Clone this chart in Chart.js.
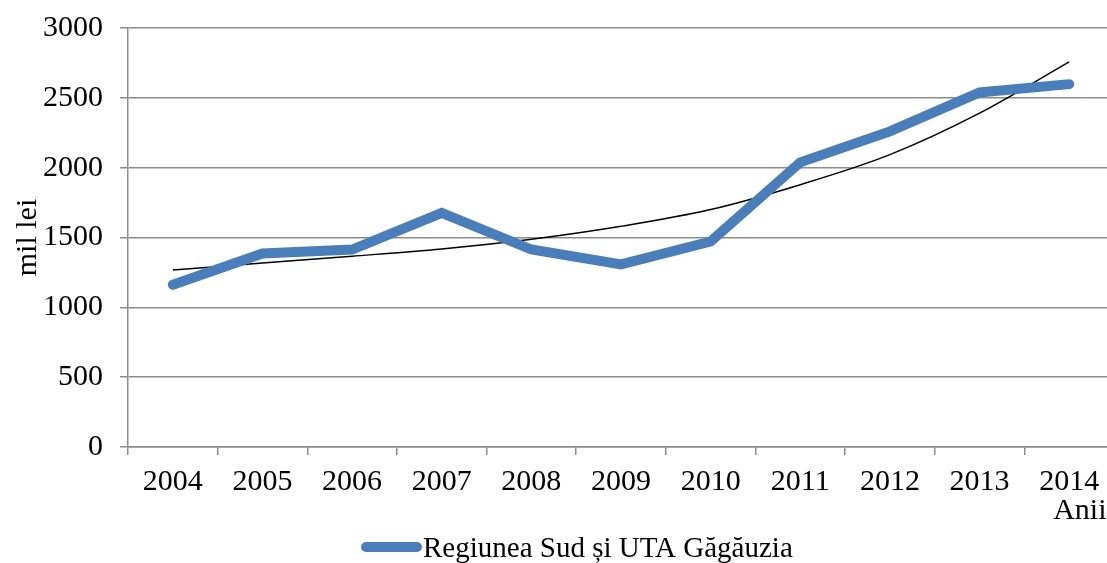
<!DOCTYPE html>
<html>
<head>
<meta charset="utf-8">
<script src="https://cdn.jsdelivr.net/npm/chart.js@4/dist/chart.umd.min.js"></script>
<style>
    html, body { margin: 0; padding: 0; background: #fff; overflow: hidden; }
    #wrap { width: 1114px; height: 563px; }
</style>
</head>
<body>
<div id="wrap"><canvas id="grafic"></canvas></div>
<script>
// Date: Regiunea Sud si UTA Gagauzia (mil lei)
const anii = ['2004', '2005', '2006', '2007', '2008', '2009', '2010', '2011', '2012', '2013', '2014'];
const valoriRegiune = [1162, 1386, 1414, 1676, 1414, 1307, 1471, 2038, 2260, 2538, 2598];
// linia de tendinta
const valoriTendinta = [1267, 1318, 1366, 1418, 1487, 1580, 1700, 1878, 2093, 2390, 2757];
const eticheteY = [0, 500, 1000, 1500, 2000, 2500, 3000];

const familie = '"Liberation Serif", "Times New Roman", serif';
const fontSerif = { family: familie, size: 30, lineHeight: 1.2 };
const gri = '#8c8c8c';
const albastru = '#4a7ebb';

Chart.defaults.font.family = familie;
Chart.defaults.color = '#000';

// legenda desenata manual (linie groasa + text), ca in original
const legendaPlugin = {
    id: 'legendaJos',
    afterDraw(chart) {
        const ctx = chart.ctx;
        const ds = chart.data.datasets[0];
        ctx.save();
        ctx.strokeStyle = ds.borderColor;
        ctx.lineWidth = 10;
        ctx.lineCap = 'round';
        ctx.beginPath();
        ctx.moveTo(366, 547);
        ctx.lineTo(417, 547);
        ctx.stroke();
        ctx.fillStyle = '#000';
        ctx.font = '29px ' + familie;
        ctx.textBaseline = 'alphabetic';
        ctx.textAlign = 'left';
        ctx.fillText(ds.label, 423, 557);
        ctx.restore();
    }
};

new Chart(document.getElementById('grafic'), {
    type: 'line',
    data: {
        labels: anii,
        datasets: [{
            label: 'Regiunea Sud și UTA Găgăuzia',
            data: valoriRegiune,
            borderColor: albastru,
            backgroundColor: albastru,
            borderWidth: 10,
            borderCapStyle: 'round',
            pointRadius: 0,
            tension: 0
        }, {
            label: 'tendinta',
            data: valoriTendinta,
            borderColor: '#000',
            borderWidth: 1.5,
            pointRadius: 0,
            cubicInterpolationMode: 'monotone'
        }]
    },
    plugins: [legendaPlugin],
    options: {
        responsive: true,
        maintainAspectRatio: false,
        animation: false,
        layout: { padding: { top: 28, right: 0, left: 0, bottom: 34 } },
        plugins: {
            tooltip: { enabled: false },
            legend: { display: false }
        },
        scales: {
            x: {
                offset: true,
                grid: {
                    offset: true,
                    drawOnChartArea: false,
                    color: gri,
                    tickLength: 8,
                    lineWidth: 1.5
                },
                border: { color: gri, width: 1.5 },
                ticks: { font: fontSerif, padding: 9, maxRotation: 0 },
                title: {
                    display: true,
                    text: 'Anii ',
                    align: 'end',
                    font: fontSerif,
                    padding: { top: -16, bottom: 0 }
                }
            },
            y: {
                min: 0,
                max: 3000,
                afterBuildTicks: (scale) => {
                    scale.ticks = eticheteY.map(v => ({ value: v }));
                },
                afterFit: (scale) => {
                    scale.width = 128;
                    scale.paddingTop = 0;
                    scale.paddingBottom = 0;
                },
                grid: { color: gri, tickLength: 8, lineWidth: 1.5 },
                border: { color: gri, width: 1.5 },
                ticks: { font: fontSerif, padding: 17, callback: (v) => String(v) },
                title: {
                    display: true,
                    text: 'mil lei',
                    font: fontSerif,
                    padding: { top: 10, bottom: 0 }
                }
            }
        }
    }
});
</script>
</body>
</html>
